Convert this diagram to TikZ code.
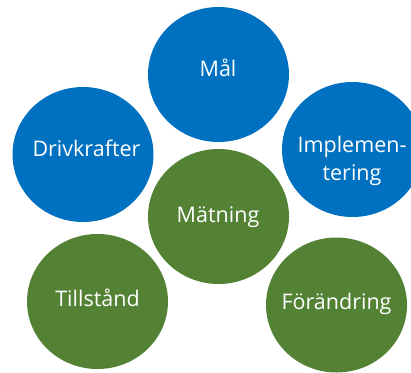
\documentclass[tikz,border=0pt]{standalone}
\usepackage{fontspec}
\setmainfont{Open Sans}
\usetikzlibrary{shapes.geometric}
\definecolor{cblue}{RGB}{0,112,192}
\definecolor{cgreen}{RGB}{84,130,53}
\tikzset{
  disc/.style={ellipse, minimum width=141pt, minimum height=135pt, inner sep=0pt, draw=none},
  bluedisc/.style={disc, fill=cblue},
  greendisc/.style={disc, fill=cgreen},
  lbl/.style={anchor=base, text=white, inner sep=0pt, font=\fontsize{21.5}{26}\selectfont}
}
\begin{document}
\begin{tikzpicture}[x=1pt,y=-1pt]
\useasboundingbox (0,0) rectangle (411,372);
\clip (0,0) rectangle (411,372);
\node[bluedisc] (mal) at (218.5,74.5) {};
\node[bluedisc] (driv) at (83,154.5) {};
\node[bluedisc] (impl) at (352.5,149.5) {};
\node[greendisc] (mat) at (218.5,216.5) {};
\node[greendisc] (till) at (97.5,301.5) {};
\node[greendisc] (forand) at (336.5,305) {};
\node[lbl] (malt) at (218,76) {Mål};
\node[lbl] (drivt) at (86.5,156) {Drivkrafter};
\node[lbl] (implt1) at (352,152) {Implemen-};
\node[lbl] (implt2) at (352,180) {tering};
\node[lbl] (matt) at (218,222) {Mätning};
\node[lbl] (tillt) at (97.5,306) {Tillstånd};
\node[lbl] (forandt) at (336.5,309) {Förändring};
\end{tikzpicture}
\end{document}
